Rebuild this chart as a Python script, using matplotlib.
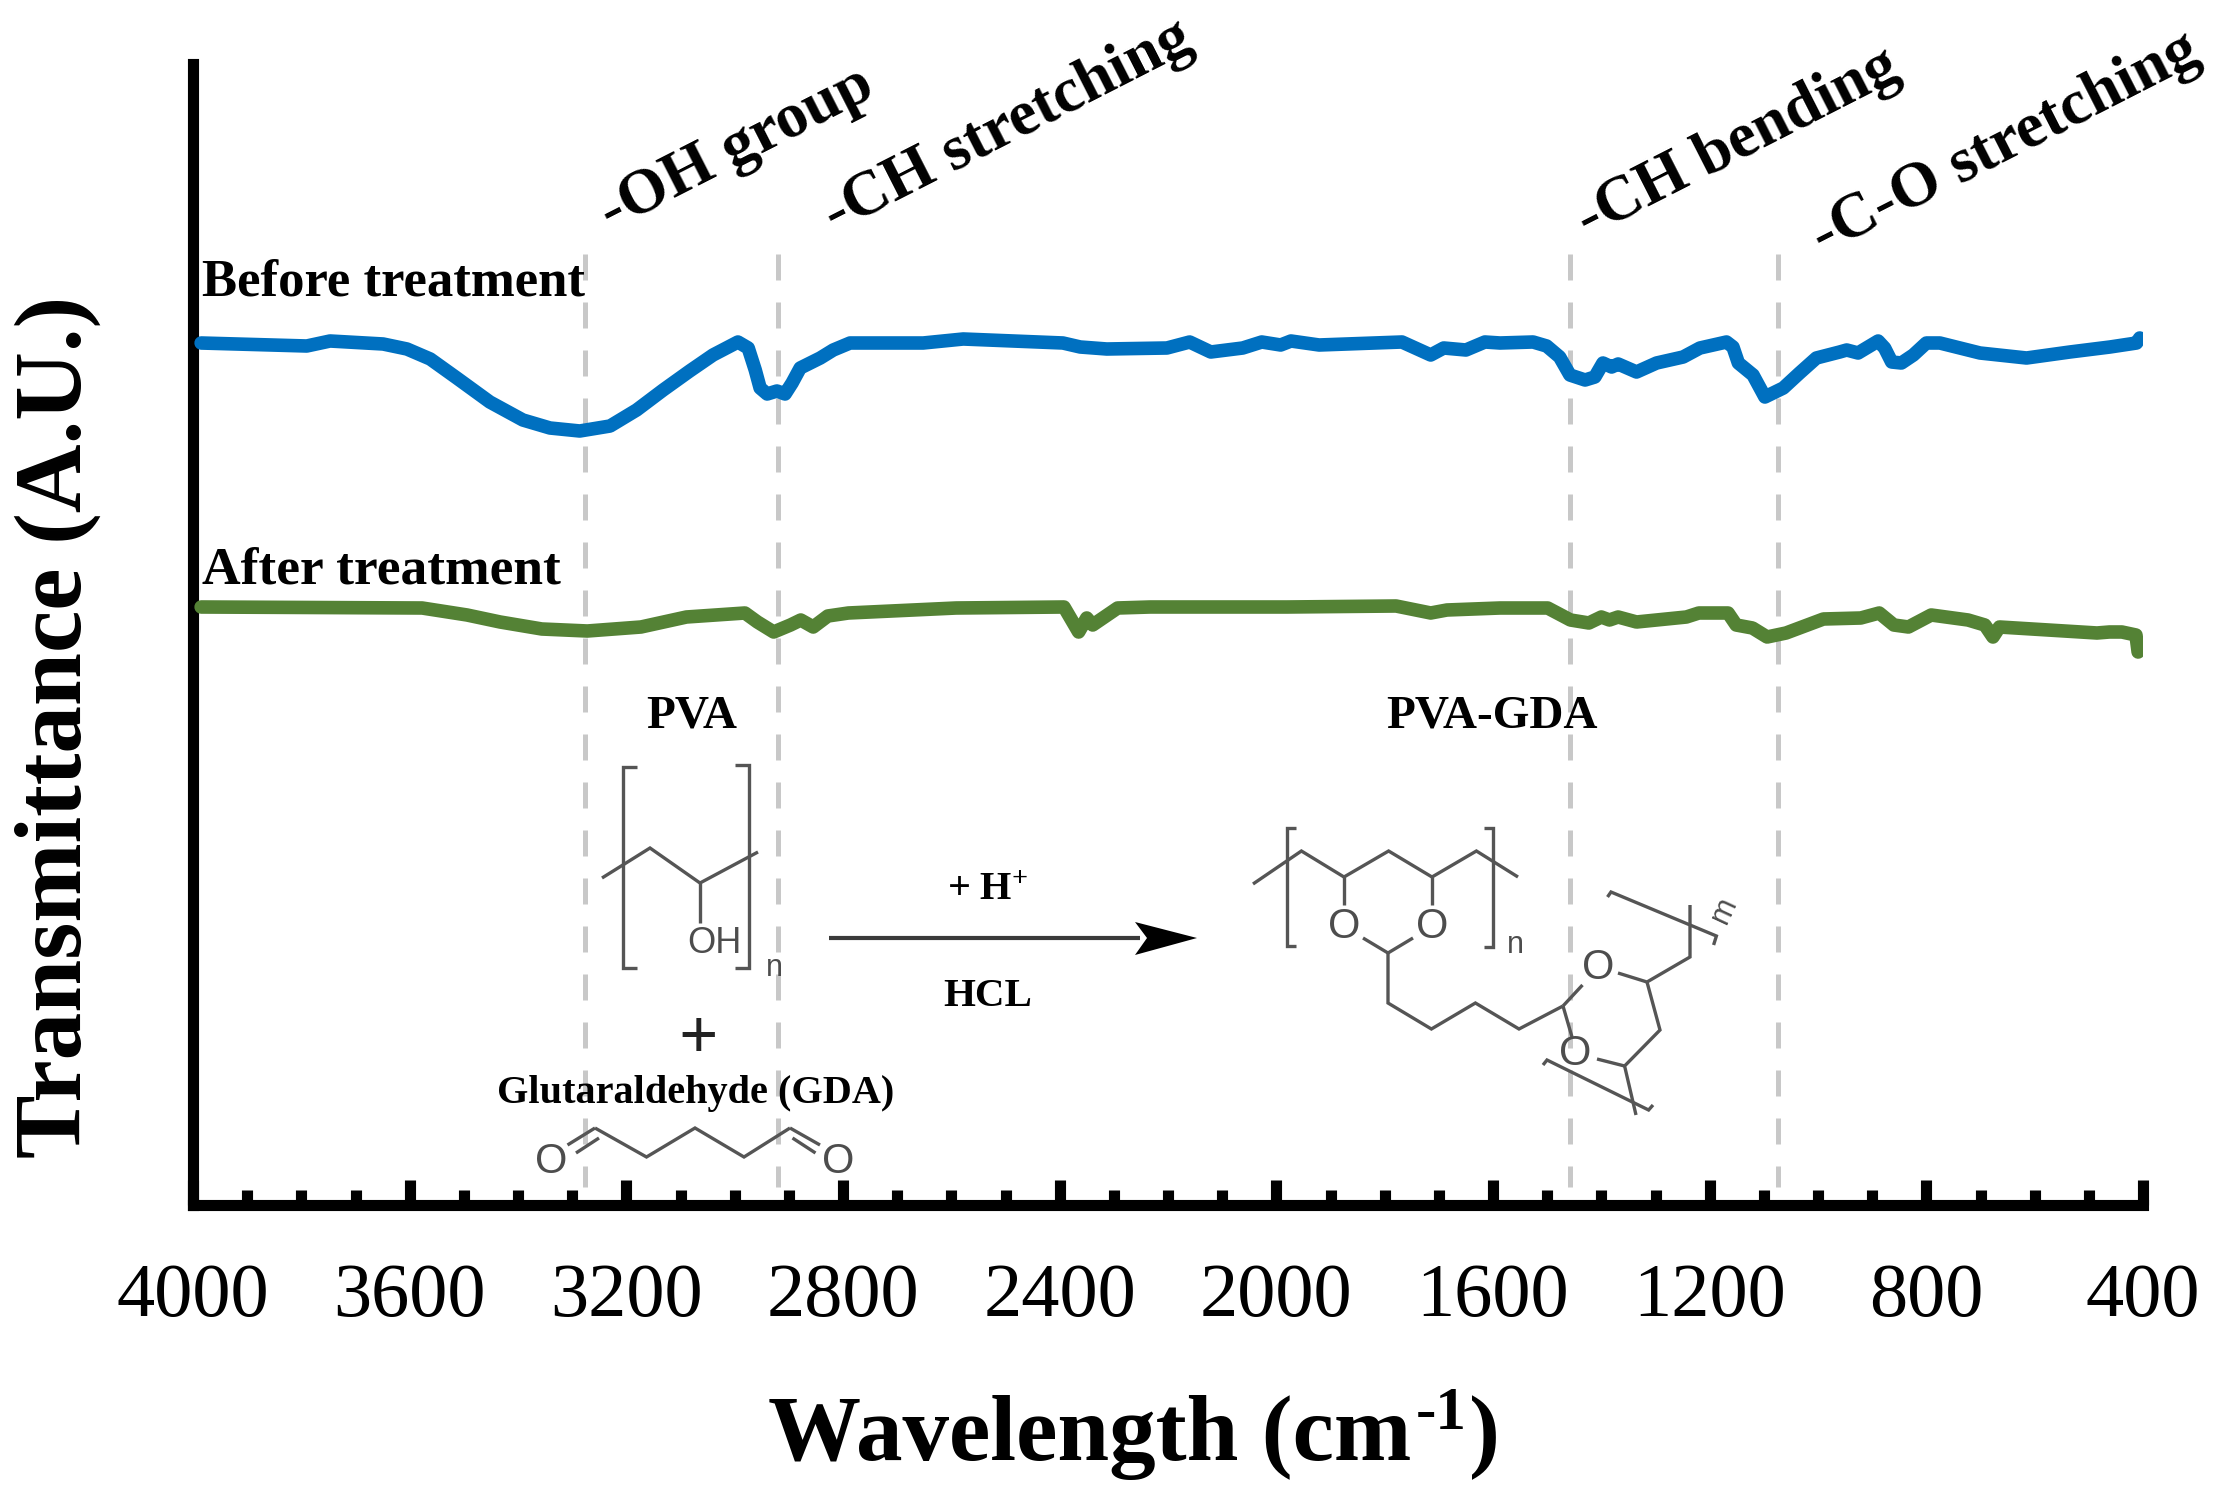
import matplotlib
matplotlib.use("Agg")
import matplotlib.pyplot as plt
from matplotlib.lines import Line2D
from matplotlib.patches import Polygon
from matplotlib.ticker import MultipleLocator

plt.rcParams['font.family'] = ['Liberation Serif', 'DejaVu Serif']
plt.rcParams['mathtext.fontset'] = 'custom'
plt.rcParams['mathtext.rm'] = 'Liberation Serif:bold'
plt.rcParams['mathtext.bf'] = 'Liberation Serif:bold'
plt.rcParams['mathtext.it'] = 'Liberation Serif:italic'

# ---------- data ----------
before_wn = [3985, 3790, 3747, 3649, 3605, 3562, 3513, 3452, 3391, 3341, 3286, 3230, 3181, 3132, 3083, 3040, 2994,
             2975, 2962, 2953, 2940, 2922, 2907, 2894, 2879, 2842, 2818, 2787, 2652, 2578, 2394, 2362, 2313, 2202,
             2160, 2121, 2062, 2027, 1992, 1973, 1921, 1768, 1715, 1691, 1650, 1615, 1587, 1526, 1501, 1477, 1458,
             1430, 1412, 1397, 1381, 1369, 1335, 1298, 1249, 1218, 1169, 1157, 1147, 1120, 1098, 1064, 1034, 1003,
             960, 947, 926, 889, 877, 864, 846, 824, 800, 775, 701, 615, 535, 461, 412, 406]
before_t = [86.2, 85.9, 86.4, 86.1, 85.6, 84.6, 82.7, 80.3, 78.5, 77.7, 77.4, 77.9, 79.5, 81.5, 83.4, 85.0, 86.3,
            85.7, 83.5, 81.7, 81.1, 81.4, 81.1, 82.2, 83.7, 84.7, 85.5, 86.2, 86.2, 86.6, 86.2, 85.8, 85.6, 85.7,
            86.3, 85.3, 85.7, 86.3, 86.0, 86.4, 86.0, 86.3, 85.0, 85.7, 85.5, 86.3, 86.2, 86.3, 85.9, 84.8, 83.0,
            82.5, 82.8, 84.2, 83.8, 84.1, 83.3, 84.2, 84.8, 85.7, 86.3, 85.8, 84.2, 83.0, 80.8, 81.7, 83.2, 84.7,
            85.3, 85.5, 85.2, 86.4, 85.7, 84.3, 84.2, 85.0, 86.2, 86.2, 85.2, 84.7, 85.3, 85.8, 86.2, 86.7]
after_wn = [3985, 3577, 3494, 3433, 3356, 3272, 3173, 3089, 2981, 2958, 2928, 2897, 2878, 2855, 2828, 2790, 2591,
            2392, 2365, 2350, 2339, 2293, 2233, 1980, 1779, 1715, 1685, 1587, 1499, 1457, 1423, 1400, 1385, 1369,
            1335, 1243, 1220, 1166, 1151, 1121, 1094, 1059, 990, 921, 887, 860, 833, 791, 723, 692, 677, 665, 485,
            462, 439, 413, 409]
after_t = [59.8, 59.7, 59.0, 58.3, 57.6, 57.4, 57.8, 58.8, 59.2, 58.3, 57.3, 58.0, 58.5, 57.8, 58.9, 59.2, 59.7,
           59.8, 57.3, 58.7, 58.0, 59.7, 59.8, 59.8, 59.9, 59.2, 59.5, 59.7, 59.7, 58.5, 58.2, 58.8, 58.5, 58.8,
           58.3, 58.8, 59.2, 59.2, 58.0, 57.7, 56.8, 57.2, 58.6, 58.7, 59.2, 58.0, 57.8, 59.0, 58.5, 58.0, 56.8,
           57.8, 57.2, 57.3, 57.3, 57.0, 55.3]
band_wn = [3276, 2920, 1458, 1074]
major_ticks = [4000, 3600, 3200, 2800, 2400, 2000, 1600, 1200, 800, 400]
band_names = ['-OH group', '-CH stretching', '-CH bending', '-C-O stretching']

W, H = 2214, 1512
fig = plt.figure(figsize=(W / 100, H / 100), dpi=100, facecolor='white')
L, R, T, B = 193, 2143, 64, 1205
ax = fig.add_axes([L / W, 1 - B / H, (R - L) / W, (B - T) / H])
ax.set_xlim(4000, 400)
ax.set_ylim(0, (B - T) / 10)
ax.patch.set_alpha(0)
for s in ('top', 'right'):
    ax.spines[s].set_visible(False)
for s in ('left', 'bottom'):
    ax.spines[s].set_linewidth(8)
    ax.spines[s].set_capstyle('projecting')

ax.set_xticks(major_ticks)
ax.xaxis.set_minor_locator(MultipleLocator(100))
ax.set_yticks([])
ax.tick_params(axis='x', which='major', direction='in', length=18, width=8, labelsize=55, pad=42, color='k')
ax.tick_params(axis='x', which='minor', direction='in', length=11, width=8, color='k')

# dashed band markers
for wn in band_wn:
    ax.plot([wn, wn], [(B - 254) / 10, (B - 1187) / 10], color='#c8c8c8', lw=3.6,
            dashes=(5.2, 4.4), dash_capstyle='butt', zorder=1)

# spectra
ax.plot(before_wn, before_t, color='#0070c0', lw=9.8, solid_joinstyle='round', solid_capstyle='round', zorder=3)
ax.plot(after_wn, after_t, color='#548235', lw=9.8, solid_joinstyle='round', solid_capstyle='round', zorder=3)


def tx(px, py, s, **kw):
    kw.setdefault('ha', 'center')
    kw.setdefault('va', 'center')
    return fig.text(px / W, 1 - py / H, s, **kw)


def ln(xs, ys, c='#555555', lw=2.4):
    fig.add_artist(Line2D([x / W for x in xs], [1 - y / H for y in ys], color=c, lw=lw,
                          solid_joinstyle='miter', solid_capstyle='butt'))


# axis titles
rend = fig.canvas.get_renderer()
t1 = tx(768, 1460, 'Wavelength (cm', fontsize=67, fontweight='bold', ha='left', va='baseline')
x1 = t1.get_window_extent(rend).x1
t2 = tx(x1 + 4, 1429, '-1', fontsize=44, fontweight='bold', ha='left', va='baseline')
x2 = t2.get_window_extent(rend).x1
tx(x2 + 3, 1460, ')', fontsize=67, fontweight='bold', ha='left', va='baseline')
tx(58, 727, 'Transmittance (A.U.)', fontsize=68.5, fontweight='bold', rotation=90)

# band annotations
for (px, py), name in zip([(737, 149), (1008, 127), (1738, 144), (2006, 144)], band_names):
    tx(px, py, name, fontsize=46, rotation=27, fontweight='bold')

# series labels
tx(202, 282, 'Before treatment', ha='left', fontsize=38, fontweight='bold')
tx(202, 571, 'After treatment', ha='left', fontsize=38.5, fontweight='bold')

# chemistry labels
tx(692, 717, 'PVA', fontsize=34, fontweight='bold')
tx(1492, 717, 'PVA-GDA', fontsize=34, fontweight='bold')
tx(696, 1094, 'Glutaraldehyde (GDA)', fontsize=29, fontweight='bold')
tx(698, 1041, '+', fontsize=50, color='#222222', fontweight='bold')
tx(988, 891, '+ H$^{+}$', fontsize=29, fontweight='bold')
tx(988, 997, 'HCL', fontsize=29.5, fontweight='bold')

sans = ['Liberation Sans']
grey = '#4d4d4d'
# PVA unit
ln([637, 623, 623, 637], [767, 767, 968, 968])
ln([735, 749, 749, 735], [765, 765, 968, 968])
ln([602, 650, 700, 758], [878, 848, 883, 852])
ln([700, 700], [883, 923])
tx(714, 943, 'OH', family=sans, fontsize=26, color=grey)
tx(774, 968, 'n', family=sans, fontsize=22, color=grey)

# glutaraldehyde
ln([595, 646.5, 695, 744, 790], [1128, 1157, 1128, 1157, 1128])
ln([595, 567.5], [1128, 1145])
ln([599, 576], [1138, 1153])
ln([790, 820], [1128, 1145])
ln([792.5, 815.5], [1138, 1153])
tx(551.5, 1162, 'O', family=sans, fontsize=30, color=grey)
tx(838.5, 1162, 'O', family=sans, fontsize=30, color=grey)

# arrow
ln([829, 1140], [938, 938], c='#3a3a3a', lw=3)
fig.add_artist(Polygon([[1135 / W, 1 - 922 / H], [1197 / W, 1 - 938 / H], [1135 / W, 1 - 955 / H],
                       [1147 / W, 1 - 938 / H]], closed=True, fc='k', ec='none',
                       transform=fig.transFigure))

# PVA-GDA
ln([1296, 1287, 1287, 1296], [828, 828, 946, 946])
ln([1484, 1493, 1493, 1484], [828, 828, 947, 947])
ln([1253, 1301.4, 1344, 1388.6, 1432, 1476.4, 1518], [884, 851, 877, 851, 877, 851, 877])
ln([1344, 1344], [877, 905])
ln([1432, 1432], [877, 905])
ln([1363, 1388, 1413], [938, 953, 938])
ln([1388, 1388, 1431.4, 1475.4, 1519, 1563], [953, 1003, 1029, 1003, 1029, 1006])
ln([1563, 1582.5], [1006, 985])
ln([1563, 1572], [1006, 1037])
ln([1618, 1647, 1690, 1690], [973, 982, 957, 905])
ln([1607.5, 1611, 1716.4, 1713.6], [897, 892, 936, 945])
ln([1647, 1660, 1624.6, 1636], [982, 1030, 1066, 1115])
ln([1597, 1624.6], [1059, 1066])
ln([1543, 1547, 1648.6, 1653], [1065, 1060, 1110, 1105])
for px, py in [(1344, 927), (1432, 927), (1598, 968), (1575, 1054)]:
    tx(px, py, 'O', family=sans, fontsize=30, color=grey)
tx(1515, 945, 'n', family=sans, fontsize=22, color=grey)
tx(1724, 910, 'm', family=sans, fontsize=22, color=grey, rotation=65)

fig.savefig('out.png', dpi=100, facecolor='white')
